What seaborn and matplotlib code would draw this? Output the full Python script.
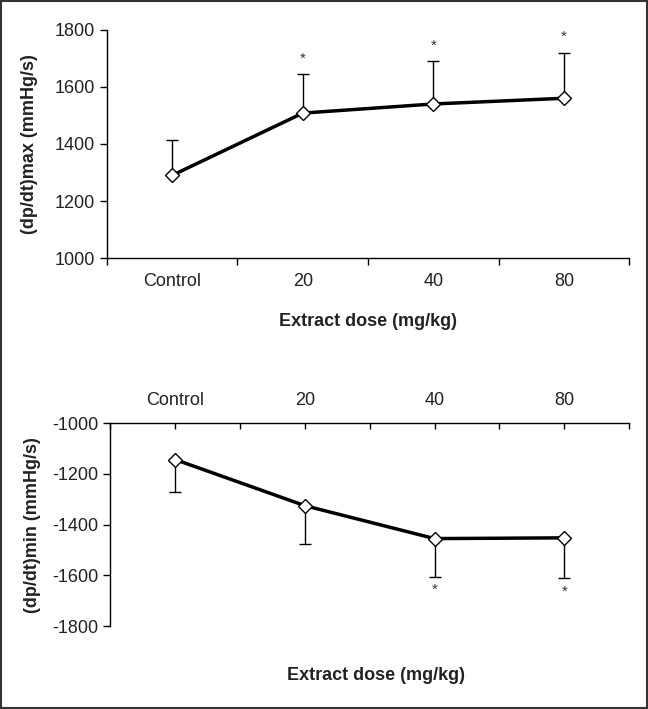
import numpy as np
import matplotlib
matplotlib.use("Agg")
import matplotlib.pyplot as plt
from matplotlib.ticker import FixedLocator
import seaborn as sns
import pandas as pd

sns.set_theme(style="ticks")
plt.rcParams['font.family'] = ['Liberation Sans', 'DejaVu Sans']
plt.rcParams['axes.unicode_minus'] = False

doses = ['Control', '20', '40', '80']
dp_max = [1290, 1508, 1540, 1560]
dp_max_sd = [125, 137, 150, 160]
dp_min = [-1143, -1325, -1455, -1452]
dp_min_sd = [127, 150, 150, 160]
max_signif = [False, True, True, True]
min_signif = [False, False, True, True]

x = np.arange(len(doses))
df_max = pd.DataFrame({'x': x, 'value': dp_max})
df_min = pd.DataFrame({'x': x, 'value': dp_min})

fig = plt.figure(figsize=(6.48, 7.09), dpi=100)
fig.patches.append(plt.Rectangle((0.001, 0.001), 0.997, 0.997, transform=fig.transFigure,
                                 fill=False, edgecolor='#333333', linewidth=1.5))

tick_fs = 13
label_fs = 13
txt_col = '#222222'

# top panel
ax1 = fig.add_axes([0.165, 0.636, 0.806, 0.322])
ax1.errorbar(x, dp_max, yerr=[np.zeros(len(x)), dp_max_sd], fmt='none',
             ecolor='black', elinewidth=1, capsize=4, capthick=1, zorder=2)
sns.lineplot(data=df_max, x='x', y='value', ax=ax1, color='black', linewidth=2.5,
             marker='D', markersize=7, markerfacecolor='white', markeredgecolor='black',
             markeredgewidth=1, zorder=3)
for xi, m, s, sig in zip(x, dp_max, dp_max_sd, max_signif):
    if sig:
        ax1.text(xi, m + s + 30, '*', ha='center', va='bottom', fontsize=11, color='#333333')
ax1.set_xlim(-0.5, 3.5)
ax1.set_ylim(1000, 1800)
ax1.set_yticks([1000, 1200, 1400, 1600, 1800])
ax1.set_xticks(x)
ax1.set_xticklabels(doses)
ax1.xaxis.set_minor_locator(FixedLocator(np.arange(-0.5, 4, 1)))
ax1.tick_params(axis='x', which='major', length=0, pad=11, labelsize=tick_fs, labelcolor=txt_col)
ax1.tick_params(axis='x', which='minor', direction='out', length=5, width=1, color='black')
ax1.tick_params(axis='y', direction='out', length=5, width=1, color='black',
                labelsize=tick_fs, labelcolor=txt_col)
sns.despine(ax=ax1)
for sp in ['left', 'bottom']:
    ax1.spines[sp].set_color('black')
    ax1.spines[sp].set_linewidth(1)
ax1.set_xlabel('Extract dose (mg/kg)', fontsize=label_fs, fontweight='bold', labelpad=16, color=txt_col)
ax1.set_ylabel('(dp/dt)max (mmHg/s)', fontsize=label_fs, fontweight='bold', labelpad=12, color=txt_col)

# bottom panel
ax2 = fig.add_axes([0.17, 0.117, 0.801, 0.286])
ax2.errorbar(x, dp_min, yerr=[dp_min_sd, np.zeros(len(x))], fmt='none',
             ecolor='black', elinewidth=1, capsize=4, capthick=1, zorder=2)
sns.lineplot(data=df_min, x='x', y='value', ax=ax2, color='black', linewidth=2.5,
             marker='D', markersize=7, markerfacecolor='white', markeredgecolor='black',
             markeredgewidth=1, zorder=3)
for xi, m, s, sig in zip(x, dp_min, dp_min_sd, min_signif):
    if sig:
        ax2.text(xi, m - s - 25, '*', ha='center', va='top', fontsize=11, color='#333333')
ax2.set_xlim(-0.5, 3.5)
ax2.set_ylim(-1800, -1000)
ax2.set_yticks([-1800, -1600, -1400, -1200, -1000])
ax2.set_xticks(x)
ax2.set_xticklabels(doses)
ax2.xaxis.set_minor_locator(FixedLocator(np.arange(-0.5, 4, 1)))
ax2.tick_params(axis='x', which='both', direction='in', length=4, width=1, color='black',
                top=True, bottom=False, labeltop=True, labelbottom=False)
ax2.tick_params(axis='x', which='major', pad=10, labelsize=tick_fs, labelcolor=txt_col)
ax2.tick_params(axis='y', direction='out', length=5, width=1, color='black',
                labelsize=tick_fs, labelcolor=txt_col)
ax2.spines['right'].set_visible(False)
ax2.spines['bottom'].set_visible(False)
for sp in ['left', 'top']:
    ax2.spines[sp].set_color('black')
    ax2.spines[sp].set_linewidth(1)
ax2.set_xlabel('')
ax2.set_ylabel('(dp/dt)min (mmHg/s)', fontsize=label_fs, fontweight='bold', labelpad=8, color=txt_col)
fig.text(0.58, 0.047, 'Extract dose (mg/kg)', ha='center', va='center',
         fontsize=label_fs, fontweight='bold', color=txt_col)

fig.savefig('out.png', dpi=100)
